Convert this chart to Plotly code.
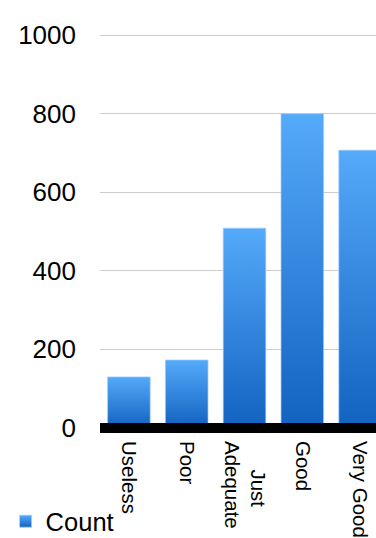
import plotly.graph_objects as go

# Survey answers and how many respondents chose each one
categories = ["Useless", "Poor", "\u00a0\u00a0\u00a0\u00a0\u00a0Just<br>Adequate", "Good", "Very Good"]
counts = [129, 172, 508, 800, 707]
y_ticks = [0, 200, 400, 600, 800, 1000]

BAR_TOP = "#55aafa"
BAR_BOTTOM = "#1262c0"

fig = go.Figure(
    go.Bar(
        x=categories,
        y=counts,
        name="Count",
        showlegend=True,
        marker=dict(color="#3a8ae0", line=dict(color="rgba(160,205,255,0.7)", width=1)),
    )
)

fig.update_layout(
    width=376,
    height=538,
    margin=dict(l=100, r=0, t=34, b=105, autoexpand=False),
    paper_bgcolor="white",
    plot_bgcolor="white",
    bargap=0.263,
    font=dict(family="Liberation Sans, Arial, sans-serif", color="black"),
    legend=dict(
        orientation="h",
        x=-0.342, y=-0.222, xanchor="left", yanchor="middle",
        font=dict(size=25.5),
        bgcolor="rgba(0,0,0,0)",
    ),
)

fig.update_xaxes(
    range=[-0.5, 4.275],
    tickangle=90,
    tickfont=dict(size=20.5),
    ticklabelstandoff=7,
    showgrid=False,
    showline=False,
    ticks="",
    automargin=False,
)

fig.update_yaxes(
    range=[-14, 1003],
    tickvals=y_ticks,
    tickfont=dict(size=26),
    gridcolor="#cccccc",
    gridwidth=1,
    zeroline=True,
    zerolinecolor="black",
    zerolinewidth=10,
    zerolinelayer="above traces",
    showline=False,
    ticklabelstandoff=23,
    automargin=False,
)

# Vertical gradient fill for each bar and the legend swatch
gradient_js = """
var gd = document.getElementById('{plot_id}');
function paintBars() {
  var ns = 'http://www.w3.org/2000/svg';
  var svg = gd.querySelector('svg.main-svg');
  if (!svg) return;
  var defs = svg.querySelector('defs');
  if (!defs) { defs = document.createElementNS(ns, 'defs'); svg.insertBefore(defs, svg.firstChild); }
  if (!document.getElementById('barGrad')) {
    var g = document.createElementNS(ns, 'linearGradient');
    g.setAttribute('id', 'barGrad');
    g.setAttribute('x1', '0'); g.setAttribute('y1', '0');
    g.setAttribute('x2', '0'); g.setAttribute('y2', '1');
    [['0', '%s'], ['1', '%s']].forEach(function (s) {
      var st = document.createElementNS(ns, 'stop');
      st.setAttribute('offset', s[0]);
      st.setAttribute('stop-color', s[1]);
      g.appendChild(st);
    });
    defs.appendChild(g);
  }
  gd.querySelectorAll('.barlayer .point path, .legend .legendpoints path').forEach(function (p) {
    p.style.fill = 'url(#barGrad)';
  });
}
paintBars();
gd.on('plotly_afterplot', paintBars);
""" % (BAR_TOP, BAR_BOTTOM)

fig.write_html("out.html", post_script=gradient_js)
